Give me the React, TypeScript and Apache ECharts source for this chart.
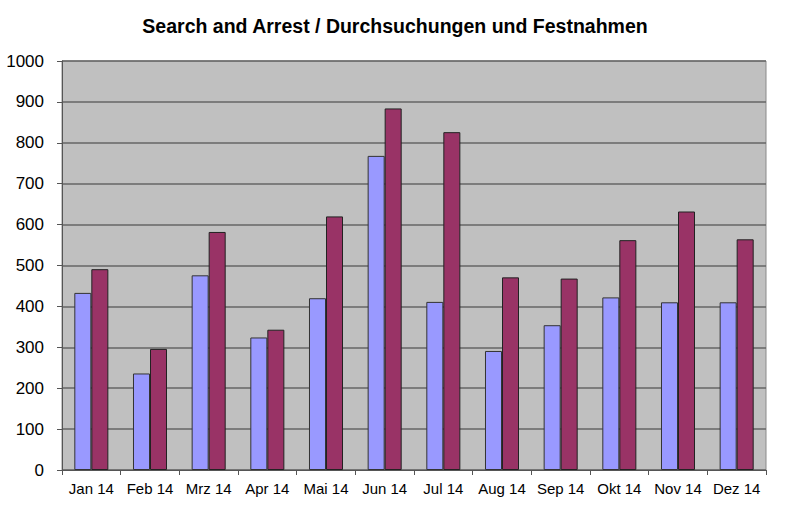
import React, { useEffect, useRef } from "react";
import * as echarts from "echarts";

const months = ["Jan 14", "Feb 14", "Mrz 14", "Apr 14", "Mai 14", "Jun 14", "Jul 14", "Aug 14", "Sep 14", "Okt 14", "Nov 14", "Dez 14"];
const searches = [433, 236, 476, 324, 420, 768, 411, 291, 354, 422, 410, 410];
const arrests = [491, 296, 582, 343, 620, 884, 826, 471, 468, 562, 632, 564];
const titleText = "Search and Arrest / Durchsuchungen und Festnahmen";

export default function App() {
  const ref = useRef<HTMLDivElement>(null);
  useEffect(() => {
    if (!ref.current) return;
    const chart = echarts.init(ref.current, undefined, { renderer: "svg" });
    const font = "Arial, 'Liberation Sans', sans-serif";
    chart.setOption({
      animation: false,
      backgroundColor: "#ffffff",
      title: {
        text: titleText,
        left: 390,
        top: 11,
        textAlign: "center",
        textStyle: { fontFamily: font, fontSize: 19.5, fontWeight: "bold", color: "#000" },
      },
      grid: {
        left: 62,
        right: 34,
        top: 61,
        bottom: 48,
        show: true,
        backgroundColor: "#C0C0C0",
        borderColor: "#8a8a8a",
        borderWidth: 1,
        outerBoundsMode: "none",
        containLabel: false,
      },
      xAxis: {
        type: "category",
        data: months,
        axisLine: { show: true, lineStyle: { color: "#555", width: 1 } },
        axisTick: { show: true, length: 5, lineStyle: { color: "#555" } },
        axisLabel: { fontFamily: font, fontSize: 15, color: "#000", margin: 11, interval: 0 },
        splitLine: { show: false },
      },
      yAxis: {
        type: "value",
        min: 0,
        max: 1000,
        interval: 100,
        axisLine: { show: true, lineStyle: { color: "#555", width: 1 } },
        axisTick: { show: true, length: 5, lineStyle: { color: "#555" } },
        axisLabel: {
          fontFamily: font,
          fontSize: 17,
          color: "#000",
          margin: 18,
          formatter: (v: number) => String(v),
        },
        splitLine: { show: true, lineStyle: { color: "#666", width: 1.5 } },
      },
      series: [
        {
          name: "Search",
          type: "bar",
          data: searches,
          barGap: "0%",
          barCategoryGap: "42%",
          itemStyle: { color: "#9999FF", borderColor: "#333", borderWidth: 1 },
        },
        {
          name: "Arrest",
          type: "bar",
          data: arrests,
          barGap: "0%",
          barCategoryGap: "42%",
          itemStyle: { color: "#993366", borderColor: "#222", borderWidth: 1 },
        },
      ],
    });
    return () => chart.dispose();
  }, []);
  return (
    <div
      ref={ref}
      style={{ position: "absolute", left: 0, top: 0, width: 800, height: 518 }}
    />
  );
}
